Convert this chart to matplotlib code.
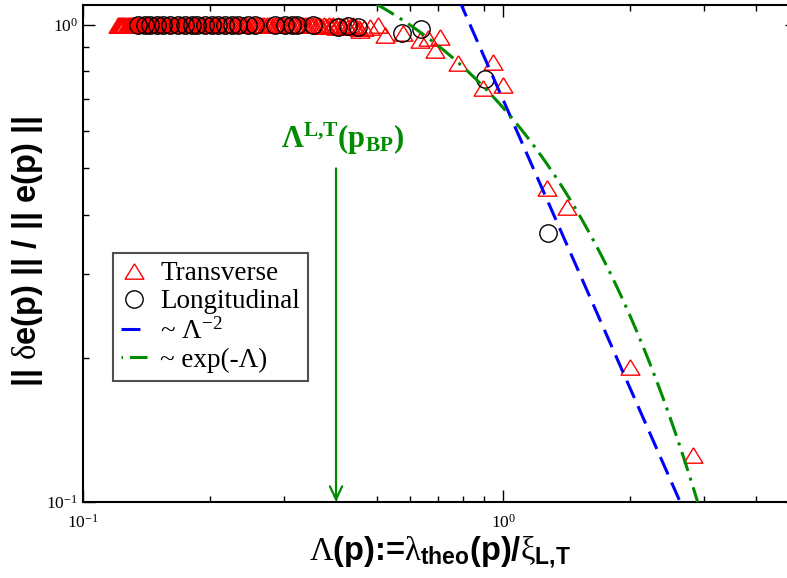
import numpy as np
import matplotlib
matplotlib.use("Agg")
import matplotlib.pyplot as plt
from matplotlib.lines import Line2D

plt.rcParams.update({
    "font.family": ["Liberation Serif", "DejaVu Serif"],
    "mathtext.fontset": "custom",
    "mathtext.rm": "Liberation Serif",
    "mathtext.it": "Liberation Serif:italic",
    "mathtext.bf": "Liberation Serif:bold",
    "mathtext.sf": "Liberation Sans:bold",
    "axes.unicode_minus": False,
})

# ---------------- data ----------------
trans_x = [0.1210, 0.1217, 0.1225, 0.1232, 0.1240, 0.1247, 0.1255, 0.1262, 0.1270, 0.1277,
           0.1285, 0.1292, 0.1300, 0.1308, 0.1315, 0.1323, 0.1330, 0.1338, 0.1345, 0.1353,
           0.1360, 0.1370, 0.1380, 0.1390, 0.1400, 0.1410, 0.1420, 0.1430, 0.1440, 0.1450,
           0.1460, 0.1470, 0.1480, 0.1490, 0.1500, 0.1510, 0.1520, 0.1530, 0.1540, 0.1550,
           0.1560, 0.1575, 0.1590, 0.1605, 0.1620, 0.1635, 0.1650, 0.1665, 0.1680, 0.1695,
           0.1710, 0.1725, 0.1740, 0.1755, 0.1770, 0.1785, 0.1800, 0.1815, 0.1830, 0.1845,
           0.1860, 0.1880, 0.1900, 0.1920, 0.1940, 0.1960, 0.1980, 0.2000, 0.2020, 0.2040,
           0.2060, 0.2080, 0.2100, 0.2125, 0.2150, 0.2175, 0.2200, 0.2225, 0.2250, 0.2275,
           0.2300, 0.2325, 0.2350, 0.2375, 0.2400, 0.2430, 0.2460, 0.2490, 0.2520, 0.2550,
           0.2580, 0.2610, 0.2640, 0.2670, 0.2700, 0.2735, 0.2770, 0.2805, 0.2840, 0.2875,
           0.2910, 0.2945, 0.2980, 0.3015, 0.3050, 0.3090, 0.3130, 0.3170, 0.3210, 0.3250,
           0.3290, 0.3330, 0.3370, 0.3415, 0.3460, 0.3505, 0.3550, 0.3595, 0.3640, 0.3690,
           0.3740, 0.3790, 0.3840, 0.3890, 0.3940, 0.3995, 0.4050, 0.4105, 0.4160, 0.4220,
           0.4280, 0.4340, 0.4400, 0.4465, 0.4530, 0.4570, 0.4670, 0.4820, 0.5030, 0.5240,
           0.578, 0.634, 0.662, 0.707, 0.689, 0.781, 0.946, 0.896, 1.00, 1.27,
           1.42, 2.00, 2.83]
trans_y = [1.0, 1.0, 1.0, 1.0, 1.0, 1.0, 1.0, 1.0, 1.0, 1.0,
           1.0, 1.0, 1.0, 1.0, 1.0, 1.0, 1.0, 1.0, 1.0, 1.0,
           1.0, 1.0, 1.0, 1.0, 1.0, 1.0, 1.0, 1.0, 1.0, 1.0,
           1.0, 1.0, 1.0, 1.0, 1.0, 1.0, 1.0, 1.0, 1.0, 1.0,
           1.0, 1.0, 1.0, 1.0, 1.0, 1.0, 1.0, 1.0, 1.0, 1.0,
           1.0, 1.0, 1.0, 1.0, 1.0, 1.0, 1.0, 1.0, 1.0, 1.0,
           1.0, 1.0, 1.0, 1.0, 1.0, 1.0, 1.0, 1.0, 1.0, 1.0,
           1.0, 1.0, 1.0, 1.0, 1.0, 1.0, 1.0, 1.0, 1.0, 1.0,
           1.0, 1.0, 1.0, 1.0, 1.0, 1.0, 1.0, 1.0, 1.0, 1.0,
           1.0, 1.0, 1.0, 1.0, 1.0, 1.0, 1.0, 1.0, 1.0, 1.0,
           1.0, 1.0, 1.0, 1.0, 1.0, 1.0, 1.0, 1.0, 1.0, 1.0,
           1.0, 1.0, 1.0, 1.0, 1.0, 1.0, 1.0, 1.0, 1.0, 0.995,
           1.0, 0.995, 1.0, 0.995, 1.0, 0.99, 1.0, 0.995, 0.99, 1.0,
           0.99, 0.995, 1.0, 0.99, 0.985, 0.976, 0.985, 0.99, 1.0, 0.953,
           0.962, 0.930, 0.940, 0.944, 0.887, 0.832, 0.836, 0.738, 0.749, 0.455,
           0.415, 0.192, 0.1255]

long_x = [0.1352, 0.1405, 0.1444, 0.1500, 0.1550, 0.1611, 0.1683, 0.1750, 0.1818, 0.1869,
          0.1952, 0.2028, 0.2096, 0.2178, 0.2264, 0.2339, 0.2471, 0.2568, 0.286, 0.303,
          0.314, 0.323, 0.353, 0.405, 0.428, 0.452, 0.575, 0.638, 0.906, 1.28]
long_y = [1.0, 1.0, 1.0, 1.0, 1.0, 1.0, 1.0, 1.0, 1.0, 1.0,
          1.0, 1.0, 1.0, 1.0, 1.0, 1.0, 1.0, 1.0, 1.0, 1.0,
          1.0, 1.0, 1.0, 0.99, 0.995, 0.99, 0.962, 0.981, 0.77, 0.366]

# guide curves
power_amp = 0.695      # ~ Lambda^-2
exp_amp = 1.82         # ~ exp(-Lambda)
curve_range = [0.5, 3.2]

arrow_x = 0.40
arrow_y = [0.50, 0.10]

labels = ["Transverse", "Longitudinal", "~ $\\mathrm{\\Lambda}^{\\mathrm{-2}}$", "~ exp(-Λ)"]

RED = "#ff0000"
BLUE = "#0000ff"
GREEN = "#008b00"

# ---------------- figure ----------------
W, H = 787, 578
fig = plt.figure(figsize=(W / 100, H / 100), dpi=100)
ax = fig.add_axes([83 / W, 76 / H, 714 / W, 497 / H])
ax.set_xscale("log")
ax.set_yscale("log")
ax.set_xlim(0.1, 5.0)
ax.set_ylim(0.1, 1.10)

tri = [(0, 0.82), (-1, -0.82), (1, -0.82), (0, 0.82)]
TRI_MS = 13.5
CIR_MS = 12.5

lam = np.geomspace(curve_range[0], curve_range[1], 300)
ax.plot(trans_x, trans_y, linestyle="none", marker=tri, ms=TRI_MS, mfc="none",
        mec=RED, mew=1.0, zorder=3)
ax.plot(long_x, long_y, linestyle="none", marker="o", ms=CIR_MS, mfc="none",
        mec="black", mew=1.0, zorder=4)
lb, = ax.plot(lam, power_amp * lam ** -2.0, color=BLUE, lw=2.2, zorder=5)
lb.set_dashes([6.2, 2.9])
lg, = ax.plot(lam, exp_amp * np.exp(-lam), color=GREEN, lw=2.2, zorder=5)
lg.set_dashes([6.5, 2.3, 1.0, 2.3])

# arrow + annotation
ax.annotate("", xy=(arrow_x, arrow_y[1]), xytext=(arrow_x, arrow_y[0]),
            arrowprops=dict(arrowstyle="->,head_length=0.47,head_width=0.22",
                            color=GREEN, lw=1.6, mutation_scale=20,
                            shrinkA=0, shrinkB=0), zorder=6)
ax.text(0.414, 0.552, "Λ$^{\\mathbf{L{,}T}}$(p$_{\\mathbf{BP}}$)", color=GREEN,
        fontsize=22, fontweight="bold", family="Liberation Serif",
        ha="center", va="baseline")

# ticks
ax.tick_params(which="both", direction="in", top=True, right=True,
               labelsize=12.5, width=1.0)
ax.tick_params(which="major", length=8.5)
ax.tick_params(which="minor", length=4.3)
ax.tick_params(axis="x", which="both", pad=8.5)
ax.tick_params(axis="y", which="both", pad=3.5)
for s in ax.spines.values():
    s.set_linewidth(1.5)
ax.xaxis.set_minor_formatter(matplotlib.ticker.NullFormatter())
ax.yaxis.set_minor_formatter(matplotlib.ticker.NullFormatter())

# legend
handles = [
    Line2D([], [], linestyle="none", marker=tri, ms=TRI_MS, mfc="none", mec=RED, mew=1.0),
    Line2D([], [], linestyle="none", marker="o", ms=CIR_MS, mfc="none", mec="black", mew=1.0),
    Line2D([], [], color=BLUE, lw=2.2, dashes=[6.2, 2.9]),
    Line2D([], [], color=GREEN, lw=2.2, dashes=[0.5, 2.3, 6.5, 2.3]),
]
leg = ax.legend(handles, labels, loc="upper left", bbox_to_anchor=(0.042, 0.501),
                borderaxespad=0, handlelength=0.95,
                handletextpad=0.5, labelspacing=0.12, borderpad=0.3,
                fancybox=False, framealpha=1, edgecolor="#505050",
                prop={"family": "Liberation Serif", "size": 19.5})
leg.get_frame().set_linewidth(1.5)

# axis labels
fig.text(440 / W, 1 - 561 / H,
         "$\\mathrm{\\Lambda}$(p):=$\\mathrm{\\lambda}_{\\mathsf{theo}}$(p)/$\\mathrm{\\xi}_{\\mathsf{L{,}T}}$",
         family="Liberation Sans", fontweight="bold", fontsize=23.5,
         ha="center", va="baseline")
fig.text(28 / W, 1 - 252 / H, "|| $\\mathrm{\\delta}$e(p) || / || e(p) ||",
         family="Liberation Sans", fontweight="bold", fontsize=23.5,
         ha="center", va="center", rotation=90)

fig.savefig("out.png", dpi=100)
